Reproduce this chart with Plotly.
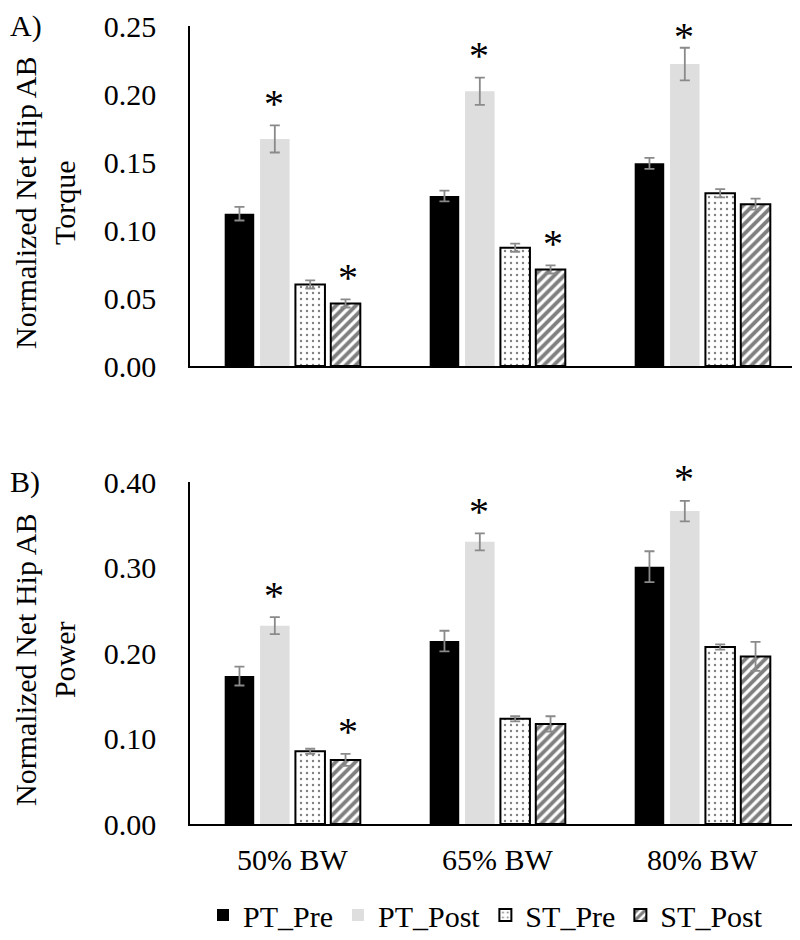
import plotly.graph_objects as go

categories = ["50% BW", "65% BW", "80% BW"]
series_names = ["PT_Pre", "PT_Post", "ST_Pre", "ST_Post"]

# Panel A: Normalized Net Hip AB Torque
torque_values = {
    "PT_Pre": [0.112, 0.125, 0.149],
    "PT_Post": [0.167, 0.202, 0.222],
    "ST_Pre": [0.060, 0.087, 0.127],
    "ST_Post": [0.046, 0.071, 0.119],
}
torque_errors = {
    "PT_Pre": [0.005, 0.004, 0.004],
    "PT_Post": [0.010, 0.010, 0.012],
    "ST_Pre": [0.003, 0.003, 0.003],
    "ST_Post": [0.003, 0.003, 0.004],
}
torque_sig = {
    "PT_Pre": [False, False, False],
    "PT_Post": [True, True, True],
    "ST_Pre": [False, False, False],
    "ST_Post": [True, True, False],
}

# Panel B: Normalized Net Hip AB Power
power_values = {
    "PT_Pre": [0.173, 0.214, 0.301],
    "PT_Post": [0.232, 0.330, 0.366],
    "ST_Pre": [0.085, 0.123, 0.207],
    "ST_Post": [0.075, 0.117, 0.196],
}
power_errors = {
    "PT_Pre": [0.011, 0.012, 0.018],
    "PT_Post": [0.010, 0.010, 0.012],
    "ST_Pre": [0.003, 0.003, 0.003],
    "ST_Post": [0.007, 0.009, 0.017],
}
power_sig = {
    "PT_Pre": [False, False, False],
    "PT_Post": [True, True, True],
    "ST_Pre": [False, False, False],
    "ST_Post": [True, False, False],
}

torque_ticks = [0.00, 0.05, 0.10, 0.15, 0.20, 0.25]
power_ticks = [0.00, 0.10, 0.20, 0.30, 0.40]

FONT = "Liberation Serif, Times New Roman, serif"
H = 940

styles = {
    "PT_Pre": dict(color="#000000", line=dict(color="#000000", width=0)),
    "PT_Post": dict(color="#dedede", line=dict(color="#dedede", width=0)),
    "ST_Pre": dict(color="#ffffff", line=dict(color="#000000", width=2),
                   pattern=dict(shape=".", fgcolor="#000000", bgcolor="#ffffff",
                                size=6, solidity=0.12)),
    "ST_Post": dict(color="#ffffff", line=dict(color="#000000", width=2),
                    pattern=dict(shape="/", fgcolor="#000000", bgcolor="#ffffff",
                                 size=7, solidity=0.55)),
}

TOP_A, BOT_A = 18, 358
TOP_B, BOT_B = 474, 816
RANGE_A, RANGE_B = 0.25, 0.40

fig = go.Figure()

for vals, errs, xa, ya, show in [
    (torque_values, torque_errors, "x", "y", True),
    (power_values, power_errors, "x2", "y2", False),
]:
    for name in series_names:
        fig.add_trace(go.Bar(
            x=categories, y=vals[name], name=name,
            xaxis=xa, yaxis=ya,
            marker=styles[name],
            error_y=dict(type="data", array=errs[name], color="#8a8a8a",
                         thickness=1.8, width=5),
            showlegend=show, legendgroup=name,
        ))

# significance asterisks (kept inside the figure's top edge)
STAR_SIZE = 40
annotations = []
for vals, errs, sig, xref, yref, top, bot, rng in [
    (torque_values, torque_errors, torque_sig, "x", "y", TOP_A, BOT_A, RANGE_A),
    (power_values, power_errors, power_sig, "x2", "y2", TOP_B, BOT_B, RANGE_B),
]:
    for si, name in enumerate(series_names):
        for ci, cat in enumerate(categories):
            if sig[name][ci]:
                yv = vals[name][ci] + errs[name][ci]
                px_from_top = top + (rng - yv) * (bot - top) / rng
                shift = min(22, px_from_top - 0.68 * STAR_SIZE - 1)
                annotations.append(dict(
                    x=cat, y=yv, xref=xref, yref=yref, text="*", showarrow=False,
                    xshift=(si - 1.5) * 37.2, yshift=shift, yanchor="middle",
                    font=dict(family=FONT, size=STAR_SIZE, color="#000000"),
                ))

# panel labels and y titles
annotations += [
    dict(text="A)", x=0.0, y=1 - TOP_A / H, xref="paper", yref="paper",
         xanchor="left", yanchor="middle", showarrow=False,
         font=dict(family=FONT, size=30, color="#000000")),
    dict(text="B)", x=0.0, y=1 - TOP_B / H, xref="paper", yref="paper",
         xanchor="left", yanchor="middle", showarrow=False,
         font=dict(family=FONT, size=30, color="#000000")),
    dict(text="Normalized Net Hip AB<br>Torque", x=37 / 800, y=1 - 195 / H,
         xref="paper", yref="paper", textangle=-90, showarrow=False,
         xanchor="center", yanchor="middle",
         font=dict(family=FONT, size=30, color="#000000")),
    dict(text="Normalized Net Hip AB<br>Power", x=37 / 800, y=1 - 652 / H,
         xref="paper", yref="paper", textangle=-90, showarrow=False,
         xanchor="center", yanchor="middle",
         font=dict(family=FONT, size=30, color="#000000")),
]

xdom = [182 / 800, 797 / 800]
axis_common = dict(showline=True, linecolor="#000000", linewidth=1.5,
                   showgrid=False, zeroline=False, ticks="", automargin=False)

fig.update_layout(
    width=800, height=H,
    margin=dict(l=0, r=0, t=0, b=0, autoexpand=False),
    paper_bgcolor="#ffffff", plot_bgcolor="#ffffff",
    barmode="group", bargap=0.31, bargroupgap=0.165,
    font=dict(family=FONT, size=30, color="#000000"),
    xaxis=dict(domain=xdom, anchor="y", showticklabels=False, **axis_common),
    yaxis=dict(domain=[1 - BOT_A / H, 1 - TOP_A / H], anchor="x",
               range=[0, RANGE_A], tickvals=torque_ticks,
               ticktext=[f"{t:.2f}" for t in torque_ticks],
               tickfont=dict(family=FONT, size=30), ticklabelstandoff=26,
               ticklabeloverflow="allow", **axis_common),
    xaxis2=dict(domain=xdom, anchor="y2", tickfont=dict(family=FONT, size=30),
                ticklabelstandoff=8, **axis_common),
    yaxis2=dict(domain=[1 - BOT_B / H, 1 - TOP_B / H], anchor="x2",
                range=[0, RANGE_B], tickvals=power_ticks,
                ticktext=[f"{t:.2f}" for t in power_ticks],
                tickfont=dict(family=FONT, size=30), ticklabelstandoff=26,
                ticklabeloverflow="allow", **axis_common),
    legend=dict(orientation="h", x=195 / 800, xanchor="left", y=1 - 907 / H,
                yanchor="middle", font=dict(family=FONT, size=30),
                itemwidth=30, traceorder="normal", borderwidth=0),
    annotations=annotations,
    showlegend=True,
)

fig.write_html("out.html")
